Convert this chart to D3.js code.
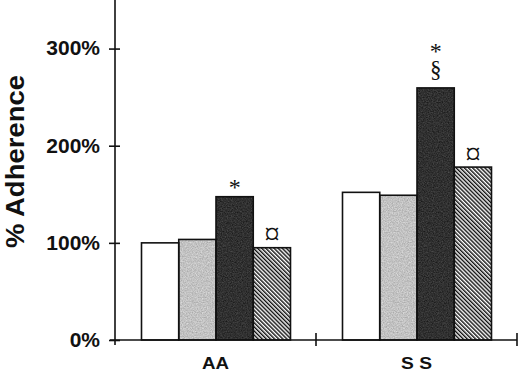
<!DOCTYPE html>
<html>
<head>
<meta charset="utf-8">
<script src="https://cdn.jsdelivr.net/npm/d3@7"></script>
<style>
  body { margin: 0; background: #fff; }
  svg { display: block; }
</style>
</head>
<body>
<div id="vizcontainer"></div>
<script>
// values
const categories = ['AA', 'S S'];
const series = ['white', 'light', 'dark', 'hatched'];
const whiteVals = [100, 152];
const lightVals = [103.5, 149];
const darkVals = [147.5, 259.5];
const hatchedVals = [95, 178];
const yTicks = [0, 100, 200, 300];
// significance marks, per bar (category index, series), listed bottom to top
const marks = [
  { cat: 0, s: 'dark', sym: '*', level: 0 },
  { cat: 0, s: 'hatched', sym: '\u00A4', level: 0 },
  { cat: 1, s: 'dark', sym: '\u00A7', level: 0 },
  { cat: 1, s: 'dark', sym: '*', level: 1 },
  { cat: 1, s: 'hatched', sym: '\u00A4', level: 0 }
];

const
  width = 520,
  height = 373,
  axisX = 115,
  axisRight = 517,
  baseY = 340,
  topY = 0,
  sans = 'Liberation Sans, Arial, sans-serif',
  serif = 'Liberation Serif, Times New Roman, serif'
  ;

// how each mark symbol sits above its bar: gap to baseline and font size
const symStyle = {
  '*': { lift: 1.5, size: 24 },
  '\u00A7': { lift: 10.5, size: 23 },
  '\u00A4': { lift: 3.5, size: 31 }
};
const stackStep = 18.5;

const valuesBySeries = {
  white: whiteVals,
  light: lightVals,
  dark: darkVals,
  hatched: hatchedVals
};

const data = categories.map((c, i) => ({
  cat: c,
  bars: series.map(s => ({ s: s, v: valuesBySeries[s][i], i: i }))
}));

const svg = d3.select('#vizcontainer')
  .append('svg')
  .attr('xmlns', 'http://www.w3.org/2000/svg')
  .attr('width', width)
  .attr('height', height)
  ;

// fills: light grey, dark grey (grainy, like the print screen) and diagonal hatch
const defs = svg.append('defs');

const makeGrain = (id, lo, hi, alpha) => {
  const f = defs.append('filter')
    .attr('id', id)
    .attr('filterUnits', 'objectBoundingBox')
    .attr('color-interpolation-filters', 'sRGB')
    .attr('x', 0).attr('y', 0).attr('width', 1).attr('height', 1)
    ;
  f.append('feTurbulence')
    .attr('type', 'fractalNoise')
    .attr('baseFrequency', 0.8)
    .attr('numOctaves', 2)
    .attr('seed', 7)
    .attr('result', 'noise')
    ;
  // map noise to a grey band [lo, hi]
  const k = (hi - lo) * 2.5, c = lo - (hi - lo) * 0.75;
  f.append('feColorMatrix')
    .attr('in', 'noise')
    .attr('type', 'matrix')
    .attr('values', `${k} 0 0 0 ${c}  ${k} 0 0 0 ${c}  ${k} 0 0 0 ${c}  0 0 0 0 ${alpha}`)
    .attr('result', 'specks')
    ;
  f.append('feComposite')
    .attr('in', 'specks')
    .attr('in2', 'SourceGraphic')
    .attr('operator', 'atop')
    ;
};
makeGrain('grainLight', 0.6, 0.9, 0.4);
makeGrain('grainDark', 0.08, 0.32, 0.45);

const hatch = defs.append('pattern')
  .attr('id', 'hatch')
  .attr('patternUnits', 'userSpaceOnUse')
  .attr('width', 2.9)
  .attr('height', 2.9)
  .attr('patternTransform', 'rotate(-45)')
  ;
hatch.append('rect')
  .attr('width', 2.9).attr('height', 2.9)
  .attr('fill', '#fff')
  ;
hatch.append('rect')
  .attr('width', 1.45).attr('height', 2.9)
  .attr('fill', '#111')
  ;

const fills = {
  white: '#ffffff',
  light: '#c4c4c4',
  dark: '#2e2e2e',
  hatched: 'url(#hatch)'
};
const grains = { light: 'url(#grainLight)', dark: 'url(#grainDark)' };

const x0 = d3.scaleBand()
  .domain(categories)
  .range([axisX, axisRight])
  ;

const x1 = d3.scaleBand()
  .domain(series)
  .range([26.5, x0.bandwidth() - 25.5])
  ;

const y = d3.scaleLinear()
  .domain([0, 350])
  .range([baseY, topY])
  ;

// bars
const groups = svg.append('g')
  .attr('id', 'bars')
  .selectAll('g')
  .data(data)
  .join('g')
  .attr('transform', d => `translate(${x0(d.cat)},0)`)
  ;

// fill first (grain only on the fill), outline on top
groups.selectAll('rect.fill')
  .data(d => d.bars)
  .join('rect')
  .attr('class', 'fill')
  .attr('x', d => x1(d.s))
  .attr('y', d => y(d.v))
  .attr('width', x1.bandwidth())
  .attr('height', d => y(0) - y(d.v))
  .attr('fill', d => fills[d.s])
  .attr('filter', d => grains[d.s] || null)
  ;

groups.selectAll('rect.edge')
  .data(d => d.bars)
  .join('rect')
  .attr('class', 'edge')
  .attr('x', d => x1(d.s))
  .attr('y', d => y(d.v))
  .attr('width', x1.bandwidth())
  .attr('height', d => y(0) - y(d.v))
  .attr('fill', 'none')
  .attr('stroke', '#111')
  .attr('stroke-width', 1.6)
  ;

// marks above bars
svg.append('g')
  .attr('id', 'marks')
  .selectAll('text')
  .data(marks)
  .join('text')
  .attr('x', d => x0(categories[d.cat]) + x1(d.s) + x1.bandwidth() / 2)
  .attr('y', d => {
    const v = valuesBySeries[d.s][d.cat];
    // stacked marks sit on the baseline of the one below
    const below = marks.find(m => m.cat === d.cat && m.s === d.s && m.level === 0);
    if (d.level > 0) {
      return y(v) - symStyle[below.sym].lift - d.level * stackStep;
    }
    return y(v) - symStyle[d.sym].lift;
  })
  .attr('text-anchor', 'middle')
  .style('font-family', serif)
  .style('font-size', d => symStyle[d.sym].size + 'px')
  .style('fill', '#111')
  .text(d => d.sym)
  ;

// y axis
const yAxis = svg.append('g')
  .attr('id', 'yAxis')
  .attr('transform', `translate(${axisX},0)`)
  .call(d3.axisLeft(y)
    .tickValues(yTicks)
    .tickSize(6)
    .tickPadding(9)
    .tickFormat(d => d + '%'))
  ;
yAxis.select('.domain')
  .attr('d', `M0,${topY}V${baseY + 5}`)
  .attr('stroke', '#111')
  .attr('stroke-width', 1.6)
  ;
yAxis.selectAll('.tick line')
  .attr('x1', -6)
  .attr('x2', 5)
  .attr('stroke', '#111')
  .attr('stroke-width', 1.6)
  ;
yAxis.selectAll('.tick text')
  .style('font-family', sans)
  .style('font-weight', 'bold')
  .style('font-size', '21px')
  .style('fill', '#111')
  .attr('dy', '0.3em')
  ;

// x axis
const xAxis = svg.append('g')
  .attr('id', 'xAxis')
  .attr('transform', `translate(0,${baseY})`)
  .call(d3.axisBottom(x0).tickSize(0).tickPadding(17))
  ;
xAxis.select('.domain')
  .attr('d', `M${axisX - 5},0H${axisRight}`)
  .attr('stroke', '#111')
  .attr('stroke-width', 1.6)
  ;
xAxis.selectAll('.tick text')
  .style('font-family', sans)
  .style('font-weight', 'bold')
  .style('font-size', '16.5px')
  .style('fill', '#111')
  .attr('textLength', d => d === 'AA' ? 27 : 31)
  .attr('lengthAdjust', 'spacingAndGlyphs')
  ;
// group separators on the category axis
xAxis.append('g')
  .selectAll('line')
  .data(categories)
  .join('line')
  .attr('x1', d => x0(d) + x0.bandwidth())
  .attr('x2', d => x0(d) + x0.bandwidth())
  .attr('y1', -7)
  .attr('y2', 6)
  .attr('stroke', '#111')
  .attr('stroke-width', 1.6)
  ;

// axis title
svg.append('text')
  .attr('transform', `translate(24,${161.5}) rotate(-90)`)
  .attr('text-anchor', 'middle')
  .style('font-family', sans)
  .style('font-weight', 'bold')
  .style('font-size', '26px')
  .style('fill', '#111')
  .attr('textLength', 173)
  .attr('lengthAdjust', 'spacingAndGlyphs')
  .text('% Adherence')
  ;
</script>
</body>
</html>
